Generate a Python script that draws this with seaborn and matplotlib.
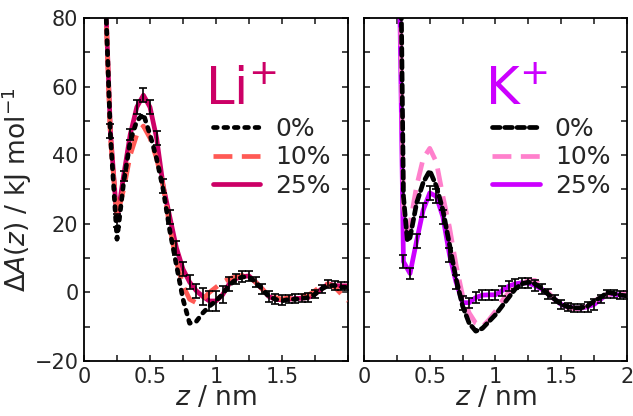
import numpy as np
import matplotlib
matplotlib.use("Agg")
import matplotlib.pyplot as plt
from matplotlib.ticker import MultipleLocator, FuncFormatter
import seaborn as sns

sns.set_theme(style="ticks")
plt.rcParams['font.family'] = ['DejaVu Sans']
plt.rcParams['mathtext.fontset'] = 'dejavusans'

# --- Li+ panel data ---
li_z = [0.15, 0.20, 0.25, 0.30, 0.35, 0.40, 0.45, 0.50, 0.55, 0.60, 0.65, 0.70,
        0.75, 0.80, 0.85, 0.90, 0.95, 1.00, 1.05, 1.10, 1.15, 1.20, 1.25, 1.30,
        1.35, 1.40, 1.45, 1.50, 1.55, 1.60, 1.65, 1.70, 1.75, 1.80, 1.85, 1.90,
        1.95, 2.00]
li_0 = [100, 46, 15.5, 32, 44, 50, 52, 46, 39, 30, 18, 8,
        -2, -9, -8.5, -6, -4, -2.5, -0.5, 2, 3.8, 4.5, 4.5, 3,
        1, -1.2, -2, -2.5, -2, -2, -1.7, -1.5, -0.5, 1, 2, 2,
        1.5, 1.5]
li_10 = [100, 45, 22, 30, 40, 46, 48.5, 45, 39, 31, 19, 9,
         2, -2, -3, -2, 0, 1.5, 3, 4, 4.5, 5, 4.5, 3,
         1, -1, -1.5, -2, -1.5, -1.2, -1, -0.8, 0.5, 2, 2.5, 1.5,
         -0.5, -2.5]
li_25 = [100, 47, 21, 34, 46, 54, 57.5, 54, 45, 31, 22, 13,
         6.8, 3, 0.5, -1.2, -2.5, -2.5, -0.7, 2.5, 4, 4.6, 4.8, 3,
         1, -1.2, -2, -2.2, -2, -1.8, -1.7, -1.5, -0.5, 1, 2.5, 2,
         1.9, 1.9]
li_err = [0, 2, 2, 1.5, 1.5, 2, 2, 2, 2, 2, 2, 2,
          2, 2, 2, 2.5, 3, 3, 2.5, 2, 1.5, 1.5, 1.5, 1.5,
          1.5, 1.5, 1.5, 1.5, 1.2, 1.2, 1.2, 1.2, 1.2, 1.2, 1.2, 1.2,
          1.2, 1.2]

# --- K+ panel data ---
k_z0 = [0.28, 0.30, 0.33, 0.35, 0.40, 0.45, 0.50, 0.55, 0.60, 0.65, 0.70, 0.75,
        0.80, 0.85, 0.90, 0.95, 1.00, 1.05, 1.10, 1.15, 1.20, 1.25, 1.30, 1.35,
        1.40, 1.45, 1.50, 1.55, 1.60, 1.65, 1.70, 1.75, 1.80, 1.85, 1.90, 1.95,
        2.00]
k_0 = [95, 28, 15, 16, 26, 32, 35.5, 31, 24, 14, 4, -4,
       -9, -11.3, -10.5, -8.5, -6.5, -4, -1.5, 1, 2.5, 3, 2.5, 1.2,
       -0.5, -2, -3.5, -4.2, -4.5, -4.5, -4, -2.5, -1.5, 0, -0.3, -0.8,
       -1]
k_z10 = [0.27, 0.30, 0.325, 0.35, 0.40, 0.45, 0.50, 0.55, 0.60, 0.65, 0.70, 0.75,
         0.80, 0.85, 0.90, 0.95, 1.00, 1.05, 1.10, 1.15, 1.20, 1.25, 1.30, 1.35,
         1.40, 1.45, 1.50, 1.55, 1.60, 1.65, 1.70, 1.75, 1.80, 1.85, 1.90, 1.95,
         2.00]
k_10 = [100, 25, 18, 20, 31, 39, 42, 38, 28, 19, 8, -1,
        -6, -9, -10, -8, -5.5, -2.5, 0, 1.5, 2.5, 3.5, 3.5, 2,
        0, -2, -3.5, -4.5, -4.8, -4.5, -3.8, -2.5, -1.5, -0.5, -0.5, -0.5,
        0]
k_z25 = [0.27, 0.30, 0.35, 0.40, 0.45, 0.50, 0.55, 0.60, 0.65, 0.70, 0.75, 0.80,
         0.85, 0.90, 0.95, 1.00, 1.05, 1.10, 1.15, 1.20, 1.25, 1.30, 1.35, 1.40,
         1.45, 1.50, 1.55, 1.60, 1.65, 1.70, 1.75, 1.80, 1.85, 1.90, 1.95, 2.00]
k_25 = [90, 9, 5.5, 15, 24, 29, 28, 22, 11, 3, -3, -3,
        -1.5, -0.8, -0.7, -0.7, 0.5, 1.8, 2.5, 2.8, 2.7, 2, 1, -0.5,
        -2, -3.5, -4.2, -4.6, -4.6, -4.2, -3.5, -2, -0.5, -0.5, -0.8, -0.8]
k_err = [0, 2, 1.5, 2, 2, 2, 2, 2, 2, 2, 2, 1.5,
         1.5, 1.5, 1.5, 1.5, 1.5, 1.5, 1.5, 1.5, 1.5, 1.5, 1.5, 1.5,
         1.2, 1.2, 1.2, 1.2, 1.2, 1.5, 1.5, 1.2, 1.2, 1.2, 1.2, 1.2]

LI_25 = '#CC0066'
LI_10 = '#FF5A55'
K_25 = '#CC00FF'
K_10 = '#FF80CC'

fig = plt.figure(figsize=(6.33, 4.16), dpi=100)
ax1 = fig.add_axes([84 / 633, 55 / 416, 264 / 633, 343 / 416])
ax2 = fig.add_axes([364 / 633, 55 / 416, 263 / 633, 343 / 416])

dot_style = (0, (0.8, 1.4))
dash_style = (0, (4, 2))
kdot_style = (0, (1.6, 1.0))


def draw_panel(ax, z0, y0, z10, y10, z25, y25, err, c10, c25, ion, ls0):
    sns.lineplot(x=z25, y=y25, ax=ax, color=c25, lw=3.4, sort=False,
                 estimator=None, label='25%', zorder=2)
    sns.lineplot(x=z10, y=y10, ax=ax, color=c10, lw=3.4, sort=False,
                 estimator=None, label='10%', zorder=3, linestyle=dash_style)
    sns.lineplot(x=z0, y=y0, ax=ax, color='black', lw=3.4, sort=False,
                 estimator=None, label='0%', zorder=4, linestyle=ls0)
    for ln in ax.lines:
        if ln.get_label() == '0%':
            ln.set_dash_capstyle('round')
    ax.errorbar(z25[1:], y25[1:], yerr=err[1:], fmt='none', ecolor='black',
                elinewidth=1.2, capsize=3.2, capthick=1.2, zorder=5)
    ax.set_xlim(0, 2)
    ax.set_ylim(-20, 80)
    ax.xaxis.set_major_locator(MultipleLocator(0.5))
    ax.xaxis.set_minor_locator(MultipleLocator(0.25))
    ax.yaxis.set_major_locator(MultipleLocator(20))
    ax.yaxis.set_minor_locator(MultipleLocator(10))
    ax.tick_params(which='both', direction='in', top=True, right=True,
                   length=4, width=1.2, labelsize=15, pad=4)
    for s in ax.spines.values():
        s.set_linewidth(1.3)
        s.set_color('black')
    ax.set_xlabel(r'$z$ / nm', fontsize=19, labelpad=-1)
    ax.text(0.46, 0.75, ion, transform=ax.transAxes, color=c25,
            fontsize=37, ha='left', va='baseline')
    h, lab = ax.get_legend_handles_labels()
    order = [lab.index('0%'), lab.index('10%'), lab.index('25%')]
    ax.legend([h[i] for i in order], [lab[i] for i in order],
              loc='upper left', bbox_to_anchor=(0.45, 0.74), frameon=False,
              fontsize=18, handlelength=1.9, handletextpad=0.6,
              labelspacing=0.17, borderaxespad=0)


draw_panel(ax1, li_z, li_0, li_z, li_10, li_z, li_25, li_err,
           LI_10, LI_25, r'Li$^{+}$', dot_style)
draw_panel(ax2, k_z0, k_0, k_z10, k_10, k_z25, k_25, k_err,
           K_10, K_25, r'K$^{+}$', kdot_style)

ax1.xaxis.set_major_formatter(FuncFormatter(lambda v, p: '' if v > 1.9 else '%g' % v))
ax2.xaxis.set_major_formatter(FuncFormatter(lambda v, p: '%g' % v))
ax1.yaxis.set_major_formatter(FuncFormatter(lambda v, p: ('\u2212%g' % -v) if v < 0 else '%g' % v))
ax2.set_yticklabels([])
ax1.set_ylabel(r'$\Delta A(z)$ / kJ mol$^{-1}$', fontsize=19, labelpad=0)

fig.savefig('out.png', dpi=100)
